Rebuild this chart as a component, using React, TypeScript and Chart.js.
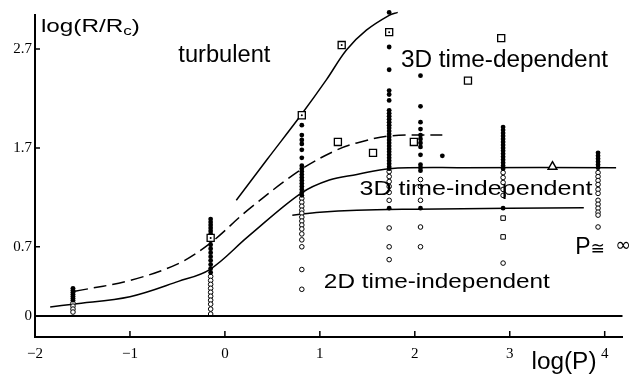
import React, { useEffect, useRef } from 'react';
import { Chart, registerables } from 'chart.js';

Chart.register(...registerables);

// ---------- data ----------
const xTicks = [-2, -1, 0, 1, 2, 3, 4];
const yTicks = [0, 0.7, 1.7, 2.7];

// vertical columns of measurements (log P positions)
const columnX = [-1.6, -0.15, 0.81, 1.73, 2.06, 2.93, 3.93];
const filledY = [
  [0.28, 0.26, 0.24, 0.22, 0.2, 0.18, 0.16],
  [0.98, 0.95, 0.92, 0.89, 0.86, 0.83, 0.76, 0.72, 0.68, 0.64, 0.6, 0.56, 0.52, 0.48, 0.44],
  [1.93, 1.83, 1.78, 1.74, 1.68, 1.6, 1.52, 1.49, 1.46, 1.43, 1.4, 1.37, 1.34, 1.31, 1.28, 1.25, 1.22],
  [3.07, 2.72, 2.49, 2.28, 2.24, 2.18, 2.08, 2.05, 2.02, 1.99, 1.96, 1.93, 1.9, 1.87, 1.84, 1.81, 1.78, 1.75, 1.72, 1.69, 1.66, 1.63, 1.6, 1.57, 1.54, 1.51, 1.49, 1.09],
  [2.43, 2.12, 1.96, 1.89, 1.83, 1.79, 1.75, 1.71, 1.63, 1.53, 1.5, 1.47, 1.09],
  [1.91, 1.88, 1.85, 1.82, 1.79, 1.76, 1.73, 1.7, 1.67, 1.64, 1.61, 1.58, 1.55, 1.52, 1.49, 1.09],
  [1.65, 1.62, 1.59, 1.56, 1.53, 1.5],
];
const openY = [
  [0.13, 0.1, 0.07, 0.04],
  [0.4, 0.36, 0.32, 0.28, 0.24, 0.2, 0.16, 0.12, 0.07, 0.02],
  [1.19, 1.15, 1.11, 1.07, 1.04, 1.0, 0.96, 0.92, 0.88, 0.83, 0.77, 0.7, 0.47, 0.27],
  [1.46, 1.41, 1.36, 1.31, 1.25, 1.17, 0.89, 0.7, 0.57],
  [1.38, 1.31, 1.17, 0.9, 0.7],
  [1.45, 1.4, 1.35, 1.28, 1.22, 0.535],
  [1.45, 1.41, 1.37, 1.33, 1.28, 1.24, 1.17, 1.13, 1.09, 1.05, 1.02, 0.9],
];
const extraFilled: [number, number][] = [[2.29, 1.62]];
const smallSquares: [number, number][] = [[2.93, 0.99], [2.93, 0.8]];
const openSquares: [number, number][] = [[1.19, 1.76], [1.56, 1.65], [1.99, 1.76], [2.56, 2.38], [2.91, 2.81]];
const dotSquares: [number, number][] = [[-0.15, 0.79], [0.81, 2.03], [1.23, 2.74], [1.73, 2.87]];
const triangles: [number, number][] = [[3.45, 1.51]];

// boundary curves
const curveTurbulent: [number, number][] = [[0.12, 1.17], [0.45, 1.59], [0.8, 2.03], [1.07, 2.39], [1.28, 2.69], [1.49, 2.89], [1.73, 3.04], [1.82, 3.07]];
const curve3DDependent: [number, number][] = [[-1.58, 0.25], [-1.0, 0.36], [-0.49, 0.53], [-0.15, 0.74], [0.24, 1.07], [0.8, 1.48], [1.18, 1.68], [1.39, 1.75], [1.73, 1.82], [2.29, 1.83]];
const curve3DIndependent: [number, number][] = [[-1.84, 0.09], [-1.6, 0.12], [-1.0, 0.195], [-0.49, 0.35], [-0.16, 0.47], [0.24, 0.8], [0.8, 1.24], [1.1, 1.375], [1.39, 1.43], [1.73, 1.49], [2.5, 1.5], [4.12, 1.5]];
const curve2D: [number, number][] = [[0.71, 1.02], [1.0, 1.05], [1.39, 1.07], [2.0, 1.08], [3.0, 1.09], [3.78, 1.095]];

const toPts = (arr: [number, number][]) => arr.map(([x, y]) => ({ x, y }));
const colPts = (cols: number[][]) => columnX.flatMap((x, i) => cols[i].map((y) => ({ x, y })));

const SANS = '"Liberation Sans", Arial, Helvetica, sans-serif';
const SERIF = '"Liberation Serif", "Times New Roman", serif';

function stretchText(ctx: CanvasRenderingContext2D, text: string, x: number, y: number, size: number, width: number) {
  ctx.font = `${size}px ${SANS}`;
  const w = ctx.measureText(text).width;
  ctx.save();
  ctx.translate(x, y);
  ctx.scale(width / w, 1);
  ctx.textAlign = 'left';
  ctx.textBaseline = 'alphabetic';
  ctx.fillText(text, 0, 0);
  ctx.restore();
}

const decorPlugin = {
  id: 'decor',
  afterDraw(chart: any) {
    const { ctx, chartArea: a } = chart;
    const xs = chart.scales.x;
    const ys = chart.scales.y;
    ctx.save();
    ctx.strokeStyle = '#000';
    ctx.fillStyle = '#000';
    // zero line
    ctx.lineWidth = 2;
    const y0 = ys.getPixelForValue(0);
    ctx.beginPath();
    ctx.moveTo(a.left, y0);
    ctx.lineTo(a.right, y0);
    ctx.stroke();
    // inward ticks
    ctx.lineWidth = 1.5;
    ctx.beginPath();
    yTicks.forEach((v) => {
      const py = ys.getPixelForValue(v);
      ctx.moveTo(a.left, py);
      ctx.lineTo(a.left + 5, py);
    });
    xTicks.forEach((v) => {
      const px = xs.getPixelForValue(v);
      ctx.moveTo(px, a.bottom);
      ctx.lineTo(px, a.bottom - 6);
    });
    ctx.stroke();

    const X = (v: number) => xs.getPixelForValue(v);
    const Y = (v: number) => ys.getPixelForValue(v);
    stretchText(ctx, 'turbulent', X(-0.49), Y(2.568), 23, 92);
    stretchText(ctx, '3D time-dependent', X(1.854), Y(2.518), 23, 207);
    stretchText(ctx, '3D time-independent', X(1.417), Y(1.223), 21, 233);
    stretchText(ctx, '2D time-independent', X(1.042), Y(0.283), 21, 226);
    // P ≅ ∞ (the ∞ runs off the right edge, as in the original)
    ctx.font = `23px ${SANS}`;
    ctx.textBaseline = 'alphabetic';
    ctx.fillText('P', X(3.69), Y(0.627));
    ctx.font = `17px "DejaVu Sans", sans-serif`;
    ctx.fillText('\u2245', X(3.85), Y(0.627));
    ctx.font = `19px "DejaVu Sans", sans-serif`;
    ctx.fillText('\u221E', X(4.11), Y(0.657));
    stretchText(ctx, 'log(P)', X(3.229), Y(-0.536), 23, 65);

    // y title with subscript
    const tx = X(-1.9375);
    const ty = Y(2.872);
    const fs = 19;
    ctx.font = `${fs}px ${SANS}`;
    const w1 = ctx.measureText('log(R/R').width;
    ctx.font = `${fs * 0.7}px ${SANS}`;
    const w2 = ctx.measureText('c').width;
    ctx.font = `${fs}px ${SANS}`;
    const w3 = ctx.measureText(')').width;
    const sx = 99 / (w1 + w2 + w3);
    ctx.save();
    ctx.translate(tx, ty);
    ctx.scale(sx, 1);
    ctx.textBaseline = 'alphabetic';
    ctx.font = `${fs}px ${SANS}`;
    ctx.fillText('log(R/R', 0, 0);
    ctx.font = `${fs * 0.7}px ${SANS}`;
    ctx.fillText('c', w1, 3);
    ctx.font = `${fs}px ${SANS}`;
    ctx.fillText(')', w1 + w2, 0);
    ctx.restore();
    ctx.restore();
  },
};

export default function App() {
  const ref = useRef<HTMLCanvasElement | null>(null);
  useEffect(() => {
    document.body.style.margin = '0';
    const canvas = ref.current;
    if (!canvas) return;
    const lineDs = (data: [number, number][], dash: number[], clip: boolean) => ({
      data: toPts(data),
      showLine: true,
      borderColor: '#000',
      borderWidth: 1.5,
      borderDash: dash,
      pointRadius: 0,
      tension: 0.35,
      clip: clip ? undefined : false,
      order: 10,
    });
    const chart = new Chart(canvas, {
      type: 'scatter',
      data: {
        datasets: [
          lineDs(curveTurbulent, [], false),
          lineDs(curve3DDependent, [13, 6], true),
          lineDs(curve3DIndependent, [], true),
          lineDs(curve2D, [], true),
          {
            data: colPts(openY),
            pointStyle: 'circle',
            pointRadius: 2.3,
            backgroundColor: '#fff',
            borderColor: '#000',
            borderWidth: 1,
            order: 3,
          },
          {
            data: [...colPts(filledY), ...toPts(extraFilled)],
            pointStyle: 'circle',
            pointRadius: 2.4,
            backgroundColor: '#000',
            borderColor: '#000',
            borderWidth: 0,
            clip: false,
            order: 2,
          },
          {
            data: toPts(smallSquares),
            pointStyle: 'rect',
            pointRadius: 3.2,
            backgroundColor: '#fff',
            borderColor: '#000',
            borderWidth: 1,
            order: 1,
          },
          {
            data: [...toPts(openSquares), ...toPts(dotSquares)],
            pointStyle: 'rect',
            pointRadius: 5,
            backgroundColor: '#fff',
            borderColor: '#000',
            borderWidth: 1.3,
            order: 1,
          },
          {
            data: toPts(dotSquares),
            pointStyle: 'circle',
            pointRadius: 1,
            backgroundColor: '#000',
            borderWidth: 0,
            order: 0,
          },
          {
            data: toPts(triangles),
            pointStyle: 'triangle',
            pointRadius: 5,
            backgroundColor: '#fff',
            borderColor: '#000',
            borderWidth: 1.5,
            order: 0,
          },
        ],
      },
      options: {
        animation: false,
        responsive: false,
        devicePixelRatio: 1,
        layout: { padding: { top: 15, left: 0, right: 0, bottom: 0 } },
        plugins: { legend: { display: false }, tooltip: { enabled: false } },
        scales: {
          x: {
            type: 'linear',
            min: -2,
            max: -2 + 594 / 96,
            grid: { display: false, drawTicks: false },
            border: { display: true, color: '#000', width: 2 },
            afterFit: (s: any) => {
              s.height = 39;
            },
            afterBuildTicks: (s: any) => {
              s.ticks = xTicks.map((v) => ({ value: v }));
            },
            ticks: {
              autoSkip: false,
              maxRotation: 0,
              padding: 8,
              color: '#000',
              font: { family: SERIF, size: 15 },
              callback: (v: any) => (Number(v) < 0 ? '\u2212' + Math.abs(Number(v)) : String(v)),
            },
          },
          y: {
            type: 'linear',
            min: -21 / 98.9,
            max: 2.7 + 34 / 98.9,
            grid: { display: false, drawTicks: false },
            border: { display: true, color: '#000', width: 2 },
            afterFit: (s: any) => {
              s.width = 35;
            },
            afterBuildTicks: (s: any) => {
              s.ticks = yTicks.map((v) => ({ value: v }));
            },
            ticks: {
              autoSkip: false,
              padding: 3,
              color: '#000',
              font: { family: SERIF, size: 15 },
              callback: (v: any) => String(v),
            },
          },
        },
      },
      plugins: [decorPlugin],
    });
    return () => chart.destroy();
  }, []);
  return (
    <div style={{ width: 629, height: 376 }}>
      <canvas ref={ref} width={629} height={376} style={{ display: 'block', width: 629, height: 376 }} />
    </div>
  );
}
